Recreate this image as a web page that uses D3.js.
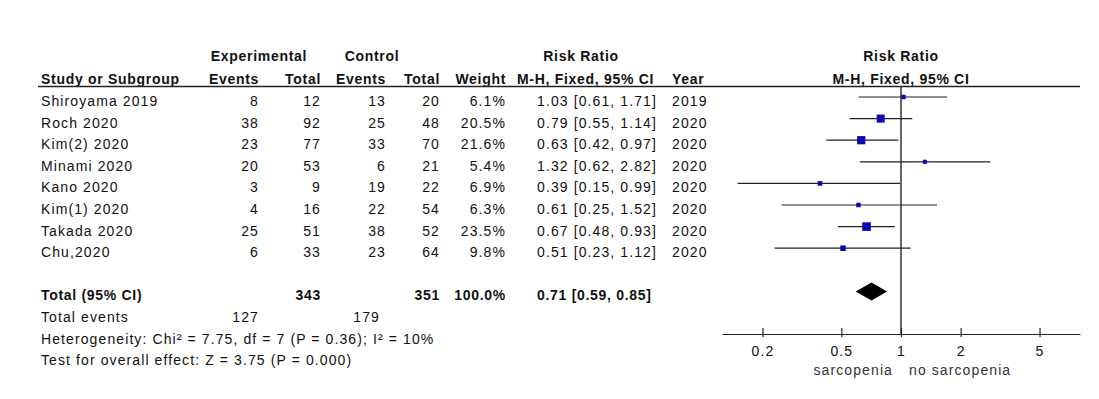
<!DOCTYPE html>
<html>
<head>
<meta charset="utf-8">
<script src="https://cdn.jsdelivr.net/npm/d3@7"></script>
<style>
  body { margin: 0; background: #fff; }
  svg { display: block; font-family: "Liberation Sans", Arial, sans-serif; }
  .t { font-size: 14px; fill: #111; letter-spacing: 1.1px; }
  .b { font-size: 14px; fill: #111; font-weight: bold; letter-spacing: 0.7px; }
</style>
</head>
<body>
<svg id="chart" width="1099" height="399"></svg>
<script>
// study rows
const studies = ["Shiroyama 2019", "Roch 2020", "Kim(2) 2020", "Minami 2020", "Kano 2020", "Kim(1) 2020", "Takada 2020", "Chu,2020"];
const expEvents = [8, 38, 23, 20, 3, 4, 25, 6];
const expTotal = [12, 92, 77, 53, 9, 16, 51, 33];
const ctrlEvents = [13, 25, 33, 6, 19, 22, 38, 23];
const ctrlTotal = [20, 48, 70, 21, 22, 54, 52, 64];
const weights = [6.1, 20.5, 21.6, 5.4, 6.9, 6.3, 23.5, 9.8];
const rr = [1.03, 0.79, 0.63, 1.32, 0.39, 0.61, 0.67, 0.51];
const rrLow = [0.61, 0.55, 0.42, 0.62, 0.15, 0.25, 0.48, 0.23];
const rrHigh = [1.71, 1.14, 0.97, 2.82, 0.99, 1.52, 0.93, 1.12];
const years = [2019, 2020, 2020, 2020, 2020, 2020, 2020, 2020];

// pooled
const pooled = [0.71, 0.59, 0.85];
const totalN = [343, 351];
const totalEvents = [127, 179];
const totalWeight = "100.0%";
const hetText = "Heterogeneity: Chi\u00b2 = 7.75, df = 7 (P = 0.36); I\u00b2 = 10%";
const effText = "Test for overall effect: Z = 3.75 (P = 0.000)";

const tickValues = [0.2, 0.5, 1, 2, 5];
const favourLeft = "sarcopenia";
const favourRight = "no sarcopenia";

const svg = d3.select("#chart");
const fmt2 = d3.format(".2f");

const row = d3.scaleLinear().domain([0, 1]).range([97, 118.6]);
const x = d3.scaleLog().domain([0.125, 8]).range([722, 1080]);
const size = d3.scaleSqrt().domain([0, 23.5]).range([0, 8.6]);

const base = 9; // text baseline below row centre

// column anchors
const cols = {
  study: 41, expEv: 259, expTot: 321, ctlEv: 386, ctlTot: 440,
  weight: 506, ci: 537, year: 672
};

// header
const hdr = svg.append("g");
hdr.append("text").attr("class", "b").attr("x", 259).attr("y", 61).attr("text-anchor", "middle").text("Experimental");
hdr.append("text").attr("class", "b").attr("x", 372).attr("y", 61).attr("text-anchor", "middle").text("Control");
hdr.append("text").attr("class", "b").attr("x", 581).attr("y", 61).attr("text-anchor", "middle").text("Risk Ratio");
hdr.append("text").attr("class", "b").attr("x", x(1)).attr("y", 61).attr("text-anchor", "middle").text("Risk Ratio");

const h2 = [
  ["Study or Subgroup", cols.study, "start"],
  ["Events", cols.expEv, "end"],
  ["Total", cols.expTot, "end"],
  ["Events", cols.ctlEv, "end"],
  ["Total", cols.ctlTot, "end"],
  ["Weight", cols.weight, "end"],
  ["M-H, Fixed, 95% CI", 517, "start"],
  ["Year", cols.year, "start"]
];
hdr.selectAll(".h2").data(h2).enter().append("text")
  .attr("class", "b").attr("x", d => d[1]).attr("y", 84)
  .attr("text-anchor", d => d[2]).text(d => d[0]);
hdr.append("text").attr("class", "b").attr("x", x(1)).attr("y", 84).attr("text-anchor", "middle").text("M-H, Fixed, 95% CI");

svg.append("line").attr("x1", 38).attr("x2", 1080).attr("y1", 86.5).attr("y2", 86.5)
  .attr("stroke", "#222").attr("stroke-width", 1.5);

// table rows
const rows = svg.selectAll(".row").data(studies).enter().append("g")
  .attr("transform", (d, i) => `translate(0,${row(i) + base})`);
rows.append("text").attr("class", "t").attr("x", cols.study).text(d => d);
const numCol = (arr, xx, f) => rows.append("text").attr("class", "t").attr("x", xx)
  .attr("text-anchor", "end").text((d, i) => f ? f(arr[i]) : arr[i]);
numCol(expEvents, cols.expEv);
numCol(expTotal, cols.expTot);
numCol(ctrlEvents, cols.ctlEv);
numCol(ctrlTotal, cols.ctlTot);
numCol(weights, cols.weight, v => v.toFixed(1) + "%");
rows.append("text").attr("class", "t").attr("x", cols.ci)
  .text((d, i) => `${fmt2(rr[i])} [${fmt2(rrLow[i])}, ${fmt2(rrHigh[i])}]`);
rows.append("text").attr("class", "t").attr("x", cols.year).text((d, i) => years[i]);

// totals
const ty = row(9) + base;
svg.append("text").attr("class", "b").attr("x", cols.study).attr("y", ty).text("Total (95% CI)");
svg.append("text").attr("class", "b").attr("x", cols.expTot).attr("y", ty).attr("text-anchor", "end").text(totalN[0]);
svg.append("text").attr("class", "b").attr("x", cols.ctlTot).attr("y", ty).attr("text-anchor", "end").text(totalN[1]);
svg.append("text").attr("class", "b").attr("x", cols.weight).attr("y", ty).attr("text-anchor", "end").text(totalWeight);
svg.append("text").attr("class", "b").attr("x", cols.ci).attr("y", ty)
  .text(`${fmt2(pooled[0])} [${fmt2(pooled[1])}, ${fmt2(pooled[2])}]`);

const ey = row(10) + base;
svg.append("text").attr("class", "t").attr("x", cols.study).attr("y", ey).text("Total events");
svg.append("text").attr("class", "t").attr("x", cols.expEv).attr("y", ey).attr("text-anchor", "end").text(totalEvents[0]);
svg.append("text").attr("class", "t").attr("x", 380).attr("y", ey).attr("text-anchor", "end").text(totalEvents[1]);
svg.append("text").attr("class", "t").attr("x", cols.study).attr("y", row(11) + base).text(hetText);
svg.append("text").attr("class", "t").attr("x", cols.study).attr("y", row(12) + base).text(effText);

// forest plot
const axisY = 334;
svg.append("line").attr("x1", x(1)).attr("x2", x(1)).attr("y1", 86.5).attr("y2", axisY)
  .attr("stroke", "#333").attr("stroke-width", 1.5);

const plot = svg.selectAll(".est").data(studies).enter().append("g");
plot.append("line")
  .attr("x1", (d, i) => x(rrLow[i])).attr("x2", (d, i) => x(rrHigh[i]))
  .attr("y1", (d, i) => row(i)).attr("y2", (d, i) => row(i))
  .attr("stroke", "#222").attr("stroke-width", 1.2);
plot.append("rect")
  .attr("x", (d, i) => x(rr[i]) - size(weights[i]) / 2)
  .attr("y", (d, i) => row(i) - size(weights[i]) / 2)
  .attr("width", (d, i) => size(weights[i]))
  .attr("height", (d, i) => size(weights[i]))
  .attr("fill", "#0b0bb0");

const dy = row(9);
svg.append("path")
  .attr("d", `M${x(pooled[1])},${dy} L${x(pooled[0])},${dy - 9} L${x(pooled[2])},${dy} L${x(pooled[0])},${dy + 9} Z`)
  .attr("fill", "#000");

// axis
const axis = svg.append("g").attr("transform", `translate(0,${axisY})`)
  .call(d3.axisBottom(x).tickValues(tickValues).tickSizeOuter(0).tickFormat(d => d));
axis.select(".domain").attr("stroke", "#222").attr("stroke-width", 1.2);
axis.selectAll(".tick line").attr("y1", -6).attr("y2", 3).attr("stroke", "#222").attr("stroke-width", 1.2);
axis.selectAll(".tick text").attr("class", "t").attr("y", 12).attr("dy", "0.71em")
  .style("font-size", "14px").style("font-family", "Liberation Sans, Arial, sans-serif").attr("fill", "#333");

svg.append("text").attr("class", "t").attr("x", x(1) - 8).attr("y", 375).attr("text-anchor", "end")
  .style("fill", "#333").text(favourLeft);
svg.append("text").attr("class", "t").attr("x", x(1) + 8).attr("y", 375)
  .style("fill", "#333").text(favourRight);
</script>
</body>
</html>
